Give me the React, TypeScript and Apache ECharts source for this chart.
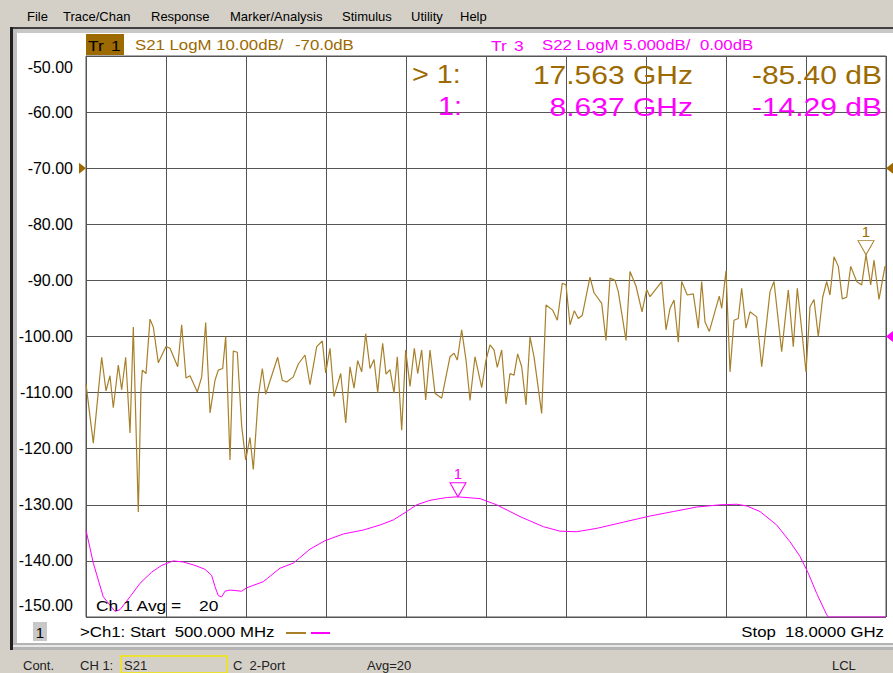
import React, { useEffect, useRef } from 'react';
import * as echarts from 'echarts';

// ---------- data ----------
// S21 trace (Tr 1), frequency in GHz, magnitude in dB
const S21_FREQ = [
  0.5, 0.66, 0.843, 0.938, 1.025, 1.097, 1.207, 1.281, 1.368, 1.463, 1.535, 1.644, 1.703, 1.732, 1.813, 1.9, 1.972,
  2.082, 2.25, 2.338, 2.506, 2.593, 2.688, 2.775, 2.935, 3.031, 3.118, 3.213, 3.322, 3.394, 3.49, 3.556, 3.65, 3.722,
  3.81, 3.906, 3.993, 4.088, 4.16, 4.269, 4.357, 4.431, 4.693, 4.794, 4.89, 5.035, 5.144, 5.291, 5.4, 5.547, 5.669,
  5.743, 5.838, 5.925, 6.072, 6.181, 6.275, 6.363, 6.443, 6.531, 6.618, 6.713, 6.8, 6.881, 6.931, 6.99, 7.063, 7.15,
  7.238, 7.31, 7.406, 7.493, 7.588, 7.682, 7.756, 7.843, 7.931, 8.025, 8.134, 8.281, 8.463, 8.55, 8.622, 8.718, 8.813,
  8.9, 9.009, 9.156, 9.25, 9.338, 9.425, 9.497, 9.593, 9.688, 9.775, 9.863, 9.943, 10.031, 10.125, 10.213, 10.3,
  10.468, 10.563, 10.709, 10.81, 10.919, 11.0, 11.088, 11.182, 11.269, 11.357, 11.525, 11.613, 11.781, 11.875, 11.963,
  12.072, 12.144, 12.313, 12.4, 12.531, 12.663, 12.765, 12.838, 13.094, 13.188, 13.275, 13.363, 13.457, 13.53, 13.653,
  13.785, 13.894, 13.968, 14.041, 14.135, 14.353, 14.406, 14.5, 14.588, 14.675, 14.769, 14.843, 14.938, 15.025, 15.172,
  15.281, 15.463, 15.55, 15.718, 15.863, 15.972, 16.06, 16.156, 16.25, 16.338, 16.425, 16.519, 16.615, 16.703, 16.775,
  16.863, 16.957, 17.044, 17.14, 17.228, 17.359, 17.468, 17.563, 17.665, 17.738, 17.847, 17.978, 18.0,
];
const S21_DB = [
  -108.5, -119.0, -103.7, -109.7, -107.0, -112.7, -105.1, -109.5, -103.7, -117.2, -98.3, -131.3, -109.2, -106.0, -106.6, -96.9, -98.3,
  -104.7, -101.8, -102.1, -105.4, -97.9, -107.4, -107.0, -109.9, -107.2, -97.5, -113.6, -107.8, -106.0, -105.7, -100.0, -122.0, -102.6,
  -102.8, -116.0, -122.0, -118.0, -123.7, -110.7, -105.7, -110.3, -103.7, -107.8, -108.1, -107.2, -104.9, -103.3, -108.6, -101.8, -100.8,
  -106.5, -102.1, -110.7, -106.6, -115.4, -105.4, -109.2, -104.3, -106.3, -99.5, -105.7, -104.1, -110.0, -105.5, -101.2, -106.7, -105.9,
  -110.1, -103.6, -116.7, -102.4, -108.9, -102.1, -106.6, -102.4, -111.3, -102.4, -110.1, -111.0, -103.6, -103.0, -104.2, -98.8, -104.2,
  -111.4, -103.6, -109.1, -104.2, -101.5, -102.4, -105.5, -102.4, -112.0, -106.6, -106.9, -103.1, -105.4, -112.2, -100.1, -103.6,
  -113.7, -94.4, -95.3, -97.1, -90.5, -90.8, -97.9, -95.4, -96.8, -96.2, -89.4, -92.2, -94.1, -100.7, -89.6,
  -90.0, -92.0, -100.7, -88.4, -91.0, -95.6, -91.6, -92.9, -90.2, -98.8, -95.0, -93.5, -101.0, -90.2, -92.6,
  -92.4, -98.5, -90.2, -97.4, -99.1, -92.8, -95.0, -88.3, -106.3, -97.1, -96.8, -91.4, -98.5, -95.6, -96.5,
  -105.4, -92.0, -90.2, -102.7, -91.7, -101.8, -91.4, -98.8, -106.3, -94.7, -93.4, -100.0, -93.0, -90.2, -92.6,
  -85.8, -87.5, -93.3, -93.0, -87.5, -90.2, -90.8, -85.4, -90.8, -86.4, -93.4, -87.5, -87.8,
];

// S22 trace (Tr 3), frequency in GHz, magnitude in dB (display clamps at the bottom edge)
const S22_FREQ = [
  0.5, 0.66, 0.878, 1.134, 1.244, 1.463, 1.681, 1.937, 2.156, 2.41, 2.628, 2.884, 3.103, 3.25, 3.322, 3.394, 3.468,
  3.541, 3.65, 3.906, 4.015, 4.378, 4.744, 5.035, 5.181, 5.4, 5.728, 6.128, 6.566, 6.931, 7.222, 7.478, 7.734, 8.025,
  8.39, 8.637, 9.119, 9.484, 9.994, 10.504, 10.869, 11.234, 11.672, 12.254, 12.838, 13.347, 13.859, 14.369, 14.734,
  14.953, 15.244, 15.609, 15.9, 16.119, 16.3, 16.484, 16.703, 16.738, 18.0,
];
const S22_DB = [
  -17.25, -20.2, -23.2, -24.5, -24.35, -23.2, -22.0, -21.0, -20.4, -20.0, -20.1, -20.4, -20.75, -21.3, -22.3, -23.1, -23.2,
  -22.7, -22.6, -22.7, -22.4, -21.85, -20.65, -20.2, -19.7, -18.95, -18.2, -17.6, -17.25, -16.8, -16.35, -15.7, -15.0, -14.6,
  -14.35, -14.29, -14.45, -15.0, -16.05, -16.95, -17.35, -17.4, -17.1, -16.55, -16.0, -15.6, -15.2, -15.0, -14.95,
  -15.1, -15.6, -16.8, -18.3, -19.6, -21.1, -22.9, -24.8, -25.0, -25.0,
];

// scales
const START_GHZ = 0.5;
const STOP_GHZ = 18.0;
const S21_REF = -70;
const S21_PER_DIV = 10;
const S22_REF = 0;
const S22_PER_DIV = 5;
const AVG = 20;

// markers
const M1_S21_FREQ = 17.563;
const M1_S21_DB = -85.4;
const M1_S22_FREQ = 8.637;
const M1_S22_DB = -14.29;

const FONT = '"Liberation Sans", Arial, sans-serif';
const TRACE_BROWN = '#a8802a';
const TEXT_BROWN = '#9c6a00';
const MAGENTA = '#ff00ff';
const GRID = '#555555';

function txt(text: string, x: number, y: number, size: number, fill: string, align = 'left', sx = 1) {
  return {
    type: 'text',
    x,
    y,
    scaleX: sx,
    z: 10,
    style: {
      text,
      fill,
      font: `${size}px ${FONT}`,
      align,
      textAlign: align,
      verticalAlign: 'middle',
      textVerticalAlign: 'middle',
    },
  };
}

export default function App() {
  const ref = useRef<HTMLDivElement>(null);

  useEffect(() => {
    if (!ref.current) return;
    const chart = echarts.init(ref.current, undefined, { renderer: 'svg' });

    const s21Min = S21_REF - 8 * S21_PER_DIV;
    const s21Max = S21_REF + 2 * S21_PER_DIV;
    const s22Min = S22_REF - 5 * S22_PER_DIV;
    const s22Max = S22_REF + 5 * S22_PER_DIV;

    const S = 1.16; // instrument font is wider than Arial
    const graphic: any[] = [
      // window chrome
      { type: 'rect', shape: { x: 10, y: 27, width: 883, height: 2 }, style: { fill: '#404040' }, z: 0 },
      { type: 'rect', shape: { x: 10, y: 27, width: 3, height: 623 }, style: { fill: '#202020' }, z: 0 },
      { type: 'rect', shape: { x: 13, y: 29, width: 880, height: 4 }, style: { fill: '#c8c8c8' }, z: 0 },
      { type: 'rect', shape: { x: 13, y: 29, width: 4, height: 620 }, style: { fill: '#c0c0c0' }, z: 0 },
      { type: 'rect', shape: { x: 17, y: 33, width: 876, height: 610 }, style: { fill: '#ffffff' }, z: 0 },
      { type: 'rect', shape: { x: 13, y: 643, width: 880, height: 7 }, style: { fill: '#b4b4b4' }, z: 0 },
      { type: 'rect', shape: { x: 13, y: 645, width: 880, height: 2 }, style: { fill: '#e8e8e8' }, z: 0 },
      // menu
      txt('File', 27, 16, 13, '#000'),
      txt('Trace/Chan', 63, 16, 13, '#000'),
      txt('Response', 151, 16, 13, '#000'),
      txt('Marker/Analysis', 230, 16, 13, '#000'),
      txt('Stimulus', 342, 16, 13, '#000'),
      txt('Utility', 411, 16, 13, '#000'),
      txt('Help', 460, 16, 13, '#000'),
      // trace headers
      { type: 'rect', shape: { x: 86, y: 34, width: 38, height: 21 }, style: { fill: TEXT_BROWN }, z: 5 },
      txt('Tr', 88, 45, 15, '#000', 'left', S),
      txt('1', 111, 45, 15, '#000', 'left', S),
      txt(`S21 LogM ${S21_PER_DIV.toFixed(2)}dB/`, 135, 45, 15, TEXT_BROWN, 'left', 1.12),
      txt(`${S21_REF.toFixed(1)}dB`, 295, 45, 15, TEXT_BROWN, 'left', 1.12),
      txt('Tr', 491, 45, 15, MAGENTA, 'left', S),
      txt('3', 514, 45, 15, MAGENTA, 'left', S),
      txt(`S22 LogM ${S22_PER_DIV.toFixed(3)}dB/`, 542, 45, 15, MAGENTA, 'left', 1.12),
      txt(`${S22_REF.toFixed(2)}dB`, 700, 45, 15, MAGENTA, 'left', 1.12),
      // marker readouts
      txt('> 1:', 412, 75, 25, TEXT_BROWN, 'left', 1.15),
      txt(`${M1_S21_FREQ.toFixed(3)} GHz`, 693, 75, 25, TEXT_BROWN, 'right', 1.2),
      txt(`${M1_S21_DB.toFixed(2)} dB`, 882, 75, 25, TEXT_BROWN, 'right', 1.2),
      txt('1:', 438, 107, 25, MAGENTA, 'left', 1.15),
      txt(`${M1_S22_FREQ.toFixed(3)} GHz`, 693, 107, 25, MAGENTA, 'right', 1.2),
      txt(`${M1_S22_DB.toFixed(2)} dB`, 882, 107, 25, MAGENTA, 'right', 1.2),
      // averaging
      txt('Ch 1 Avg =', 96, 605, 15, '#000', 'left', S),
      txt(String(AVG), 199, 605, 15, '#000', 'left', S),
      // bottom stimulus line
      { type: 'rect', shape: { x: 33, y: 622, width: 14, height: 19 }, style: { fill: '#c8c8c8' }, z: 5 },
      txt('1', 40, 632, 15, '#000', 'center'),
      txt(`>Ch1: Start  ${(START_GHZ * 1000).toFixed(3)} MHz`, 80, 632, 15, '#000', 'left', 1.12),
      { type: 'line', shape: { x1: 286, y1: 633, x2: 306, y2: 633 }, style: { stroke: TRACE_BROWN, lineWidth: 2 }, z: 5 },
      { type: 'line', shape: { x1: 311, y1: 633, x2: 330, y2: 633 }, style: { stroke: MAGENTA, lineWidth: 2 }, z: 5 },
      txt(`Stop  ${STOP_GHZ.toFixed(4)} GHz`, 884, 632, 15, '#000', 'right', 1.12),
      // status bar
      txt('Cont.', 23, 665, 13, '#222'),
      txt('CH 1:', 80, 665, 13, '#222'),
      { type: 'rect', shape: { x: 121, y: 656, width: 106, height: 17 }, style: { fill: 'none', stroke: '#f2e600', lineWidth: 1.5 }, z: 5 },
      txt('S21', 124, 665, 13, '#222'),
      txt('C  2-Port', 233, 665, 13, '#222'),
      txt(`Avg=${AVG}`, 367, 665, 13, '#222'),
      txt('LCL', 832, 665, 13, '#222'),
    ];

    const refTri = (side: 'left' | 'right') =>
      side === 'left' ? 'path://M0,0L9,6L0,12Z' : 'path://M9,0L0,6L9,12Z';

    chart.setOption({
      animation: false,
      backgroundColor: '#d4d0c8',
      graphic,
      grid: {
        left: 86,
        top: 56,
        width: 800,
        height: 561,
        show: true,
        borderColor: GRID,
        borderWidth: 1,
        backgroundColor: 'transparent',
        z: 3,
      },
      xAxis: [
        {
          type: 'value',
          min: 0,
          max: 10,
          interval: 1,
          axisLine: { show: false },
          axisTick: { show: false },
          axisLabel: { show: false },
          splitLine: { show: true, lineStyle: { color: GRID, width: 1 } },
        },
        { type: 'value', min: START_GHZ, max: STOP_GHZ, show: false, position: 'top' },
      ],
      yAxis: [
        {
          type: 'value',
          min: s21Min,
          max: s21Max,
          interval: S21_PER_DIV,
          axisLine: { show: false },
          axisTick: { show: false },
          splitLine: { show: true, lineStyle: { color: GRID, width: 1 } },
          axisLabel: {
            showMinLabel: true,
            showMaxLabel: true,
            margin: 13,
            color: '#000',
            fontSize: 16,
            fontFamily: FONT,
            formatter: (v: number) => {
              const s = v.toFixed(2);
              if (v === s21Max) return `{t|${s}}`;
              if (v === s21Min) return `{b|${s}}`;
              return s;
            },
            rich: {
              t: { padding: [22, 0, 0, 0], fontSize: 16, fontFamily: FONT, color: '#000' },
              b: { padding: [0, 0, 24, 0], fontSize: 16, fontFamily: FONT, color: '#000' },
            },
          },
        },
        { type: 'value', min: s22Min, max: s22Max, show: false },
      ],
      series: [
        {
          name: 'S21',
          type: 'line',
          xAxisIndex: 1,
          yAxisIndex: 0,
          data: S21_FREQ.map((f, i) => [f, S21_DB[i]]),
          symbol: 'none',
          lineStyle: { color: TRACE_BROWN, width: 1.2 },
          z: 4,
          markPoint: {
            silent: true,
            data: [
              {
                coord: [M1_S21_FREQ, M1_S21_DB],
                symbol: 'path://M0,0L16,0L8,14Z',
                symbolSize: [16, 14],
                symbolOffset: [0, '-50%'],
                itemStyle: { color: 'rgba(0,0,0,0)', borderColor: TRACE_BROWN, borderWidth: 1 },
                label: { show: true, formatter: '1', position: 'top', distance: 1, color: TEXT_BROWN, fontSize: 15, fontFamily: FONT },
              },
              {
                coord: [START_GHZ, S21_REF],
                symbol: refTri('left'),
                symbolSize: [7, 11],
                symbolOffset: ['-50%', 0],
                itemStyle: { color: TEXT_BROWN },
                label: { show: false },
              },
              {
                coord: [STOP_GHZ, S21_REF],
                symbol: refTri('right'),
                symbolSize: [7, 11],
                symbolOffset: ['50%', 0],
                itemStyle: { color: TEXT_BROWN },
                label: { show: false },
              },
            ],
          },
        },
        {
          name: 'S22',
          type: 'line',
          xAxisIndex: 1,
          yAxisIndex: 1,
          data: S22_FREQ.map((f, i) => [f, S22_DB[i]]),
          symbol: 'none',
          lineStyle: { color: MAGENTA, width: 1 },
          z: 4,
          markPoint: {
            silent: true,
            data: [
              {
                coord: [M1_S22_FREQ, M1_S22_DB],
                symbol: 'path://M0,0L16,0L8,14Z',
                symbolSize: [16, 14],
                symbolOffset: [0, '-50%'],
                itemStyle: { color: 'rgba(0,0,0,0)', borderColor: MAGENTA, borderWidth: 1 },
                label: { show: true, formatter: '1', position: 'top', distance: 1, color: MAGENTA, fontSize: 15, fontFamily: FONT },
              },
              {
                coord: [STOP_GHZ, S22_REF],
                symbol: refTri('right'),
                symbolSize: [7, 11],
                symbolOffset: ['50%', 0],
                itemStyle: { color: MAGENTA },
                label: { show: false },
              },
            ],
          },
        },
      ],
    });

    return () => chart.dispose();
  }, []);

  return <div ref={ref} style={{ position: 'fixed', left: 0, top: 0, width: 893, height: 673 }} />;
}
